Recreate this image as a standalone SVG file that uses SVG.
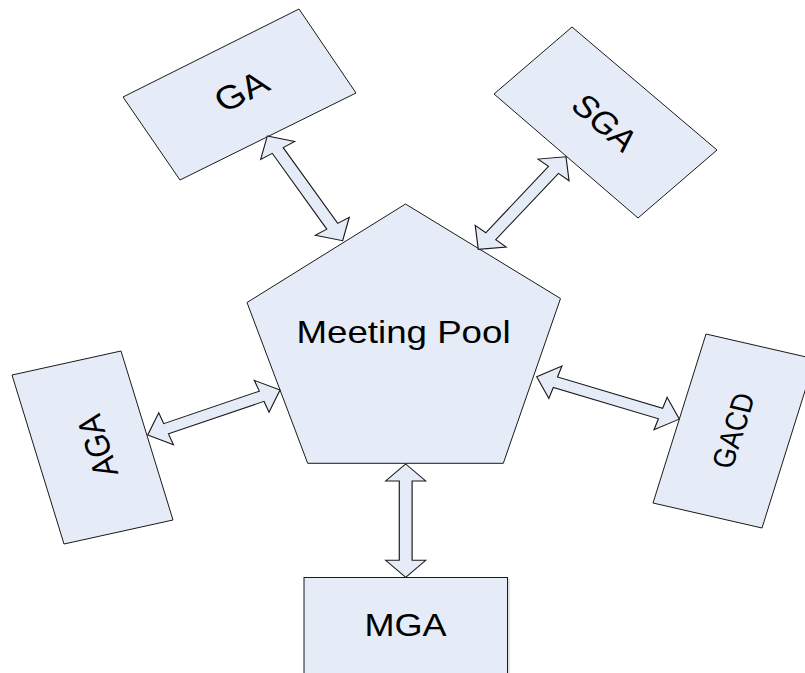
<svg xmlns="http://www.w3.org/2000/svg" width="805" height="673" viewBox="0 0 805 673">
  <style>
    .shape { fill: #e5ebf7; stroke: #1a1a1a; stroke-width: 1; stroke-linejoin: miter; }
    .label { font-family: "Liberation Sans", Arial, sans-serif; fill: #000; text-anchor: middle; }
  </style>
  <rect width="805" height="673" fill="#fff"/>

  <!-- central node -->
  <g id="meeting-pool">
    <polygon class="shape" points="405.5,204 560.5,298.5 503.3,463.3 307.7,463.3 247,302.5"/>
    <text class="label" font-size="31.5" transform="translate(403.5 343) scale(1.165 1)">Meeting Pool</text>
  </g>

  <g id="ga">
    <polygon class="shape" points="123,97 299,9 356,93 180,180"/>
    <text class="label" font-size="33" transform="translate(241 91) scale(1.165 1) rotate(-30.3)" y="11.8">GA</text>
  </g>

  <g id="sga">
    <polygon class="shape" points="494,94 572,27 717,150 638,218"/>
    <text class="label" font-size="31" transform="translate(605 122.5) scale(1.165 1) rotate(45.2)" y="11">SGA</text>
  </g>

  <g id="aga">
    <polygon class="shape" points="12,375 121,351 173,520 64,544"/>
    <text class="label" font-size="30" transform="translate(97 446) scale(1.165 1) rotate(-104.9)" y="10.7">AGA</text>
  </g>

  <g id="gacd">
    <polygon class="shape" points="706,334 815,359 762,528 653,503"/>
    <text class="label" font-size="26.5" transform="translate(733 430.5) scale(1.165 1) rotate(-74.9)" y="9.5">GACD</text>
  </g>

  <g id="mga">
    <!-- faint drop edge along the right side -->
    <line x1="509" y1="579" x2="509" y2="673" stroke="#c8c8c8" stroke-width="1"/>
    <rect class="shape" x="304" y="577.5" width="203.5" height="120"/>
    <text class="label" font-size="31" transform="translate(405.5 635.5) scale(1.165 1)">MGA</text>
  </g>

  <!-- connectors: two-way block arrows (head length 17, head half-width 17.2, shaft half-width 5.5) -->
  <g id="connectors">
    <!-- GA <-> Meeting Pool, L=123.1 -->
    <path class="shape" transform="translate(267.3 136) scale(1.165 1) rotate(58.3)"
          d="M0,0 L17,-17.2 L17,-5.5 L106.1,-5.5 L106.1,-17.2 L123.1,0 L106.1,17.2 L106.1,5.5 L17,5.5 L17,17.2 Z"/>
    <!-- SGA <-> Meeting Pool, L=119.4 -->
    <path class="shape" transform="translate(566 156.7) scale(1.165 1) rotate(129.1)"
          d="M0,0 L17,-17.2 L17,-5.5 L102.4,-5.5 L102.4,-17.2 L119.4,0 L102.4,17.2 L102.4,5.5 L17,5.5 L17,17.2 Z"/>
    <!-- AGA <-> Meeting Pool, L=122.2 -->
    <path class="shape" transform="translate(147.7 435) scale(1.165 1) rotate(-21.6)"
          d="M0,0 L17,-17.2 L17,-5.5 L105.2,-5.5 L105.2,-17.2 L122.2,0 L105.2,17.2 L105.2,5.5 L17,5.5 L17,17.2 Z"/>
    <!-- Meeting Pool <-> GACD, L=129.5 -->
    <path class="shape" transform="translate(536.7 376.7) scale(1.165 1) rotate(19.1)"
          d="M0,0 L17,-17.2 L17,-5.5 L112.5,-5.5 L112.5,-17.2 L129.5,0 L112.5,17.2 L112.5,5.5 L17,5.5 L17,17.2 Z"/>
    <!-- Meeting Pool <-> MGA, L=113.3 -->
    <path class="shape" transform="translate(405.7 464) scale(1.165 1) rotate(90)"
          d="M0,0 L17,-17.2 L17,-5.5 L96.3,-5.5 L96.3,-17.2 L113.3,0 L96.3,17.2 L96.3,5.5 L17,5.5 L17,17.2 Z"/>
  </g>
</svg>
